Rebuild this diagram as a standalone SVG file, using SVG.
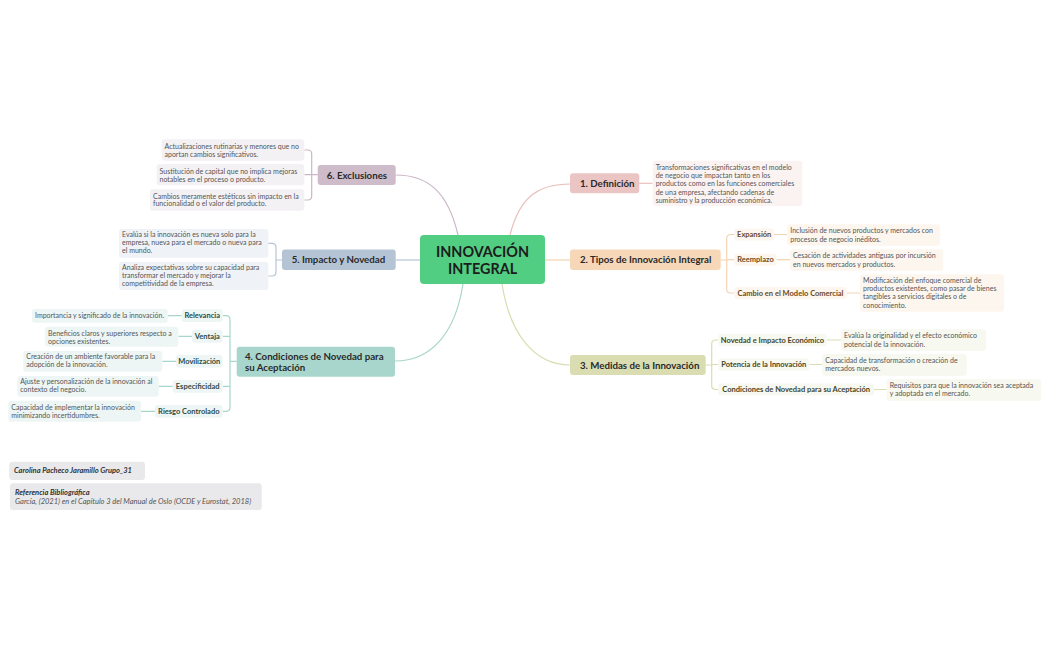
<svg xmlns="http://www.w3.org/2000/svg" width="1049" height="650" viewBox="0 0 1049 650">
<style>
text{font-family:Lato,"Liberation Sans",sans-serif;}
.br{font-size:9.7px;font-weight:700;fill:#2a2a2a;}
.lf{font-size:7px;fill:#555;}
.sb{font-size:7.5px;font-weight:700;text-anchor:middle;}
.c{fill:none;stroke-width:1.2;}
.ft{font-size:7.5px;font-style:italic;}
</style>
<rect width="1049" height="650" fill="#ffffff"/>
<g id="connectors">
<path class="c" stroke="#CBB7C8" d="M458,235 C448,192 428,175 395.7,175"/>
<path class="c" stroke="#E9C0BD" d="M510,235 C520,195 540,184 570,184"/>
<path class="c" stroke="#B6C5D5" d="M420,260 H395.7"/>
<path class="c" stroke="#F4D4B2" d="M545,260 H570"/>
<path class="c" stroke="#A7D6CC" d="M463,284 C455,335 430,361 395,361"/>
<path class="c" stroke="#D9DDAF" d="M502,284 C510,335 535,365 570,365"/>
<path class="c" stroke="#CBB7C8" d="M304.3,150 H307.7 Q311.7,150 311.7,154 V196 Q311.7,200 307.7,200 H304.3 M304.3,174.7 H317.7"/>
<path class="c" stroke="#B6C5D5" d="M268.3,243.3 H272 Q276,243.3 276,247.3 V272 Q276,276 272,276 H268.3 M276,260 H282"/>
<path class="c" stroke="#A7D6CC" d="M222.7,315.6 H226 Q230,315.6 230,319.6 V407.3 Q230,411.3 226,411.3 H222.7 M222.7,336.4 H230 M222.7,386.3 H230 M230,361.3 H236.7"/>
<path class="c" stroke="#A7D6CC" d="M167.7,315.6 H181.7 M178.3,336.4 H192 M162.3,361.3 H176 M158.7,386.3 H172.7 M141,411.3 H155"/>
<path class="c" stroke="#E9C0BD" d="M639.3,183.3 H652.7"/>
<path class="c" stroke="#F4D4B2" d="M720.7,260 H726.7 M734.3,234.5 H730.7 Q726.7,234.5 726.7,238.5 V289 Q726.7,293 730.7,293 H734.3 M726.7,259.7 H734.3"/>
<path class="c" stroke="#F4D4B2" d="M774,234.5 H787.3 M776.7,259.7 H790 M846.7,293 H860"/>
<path class="c" stroke="#D9DDAF" d="M705.7,365 H711.7 M718.3,340 H715.7 Q711.7,340 711.7,344 V385.5 Q711.7,389.5 715.7,389.5 H718.3 M711.7,364.5 H718.3"/>
<path class="c" stroke="#D9DDAF" d="M826.7,340 H841 M809.3,364.5 H822.3 M874,389.5 H886.7"/>
</g>
<g id="central">
<rect x="420" y="235" width="125" height="49" rx="4" fill="#52CE83"/>
<text x="482.5" y="257" text-anchor="middle" style="font-size:14.4px;font-weight:700;fill:#1c1c1c">INNOVACIÓN</text>
<text x="482.5" y="273.8" text-anchor="middle" style="font-size:14.4px;font-weight:700;fill:#1c1c1c">INTEGRAL</text>
</g>
<g id="b1-definicion">
<rect x="570" y="173.3" width="69.3" height="20" rx="3" fill="#EBC5C4"/>
<text class="br" x="580" y="186.8">1. Definición</text>
<rect x="652.7" y="160.7" width="149.6" height="45.3" rx="3" fill="#FBF3F2"/>
<text class="lf" x="655.7" y="169.6">Transformaciones significativas en el modelo</text>
<text class="lf" x="655.7" y="177.9">de negocio que impactan tanto en los</text>
<text class="lf" x="655.7" y="186.2">productos como en las funciones comerciales</text>
<text class="lf" x="655.7" y="194.5">de una empresa, afectando cadenas de</text>
<text class="lf" x="655.7" y="202.8">suministro y la producción económica.</text>
</g>
<g id="b2-tipos">
<rect x="570" y="249.5" width="150.7" height="20.5" rx="3" fill="#F6D7B7"/>
<text class="br" x="580" y="263">2. Tipos de Innovación Integral</text>
</g>
<g id="b2-expansion">
<rect x="734.3" y="228.5" width="39.7" height="12" rx="3" fill="#FDF6EE"/>
<text class="sb" x="754.2" y="237.2" fill="#6A4A24">Expansión</text>
<rect x="787.3" y="224.3" width="152.7" height="21.4" rx="3" fill="#FDF6EE"/>
<text class="lf" x="790.3" y="233.3">Inclusión de nuevos productos y mercados con</text>
<text class="lf" x="790.3" y="241.6">procesos de negocio inéditos.</text>
</g>
<g id="b2-reemplazo">
<rect x="734.3" y="253.7" width="42.4" height="12" rx="3" fill="#FDF6EE"/>
<text class="sb" x="755.5" y="262.4" fill="#6A4A24">Reemplazo</text>
<rect x="790" y="249.3" width="153.3" height="21.4" rx="3" fill="#FDF6EE"/>
<text class="lf" x="793" y="258.3">Cesación de actividades antiguas por incursión</text>
<text class="lf" x="793" y="266.6">en nuevos mercados y productos.</text>
</g>
<g id="b2-cambio">
<rect x="734.3" y="287" width="112.4" height="12" rx="3" fill="#FDF6EE"/>
<text class="sb" x="790.5" y="295.7" fill="#6A4A24">Cambio en el Modelo Comercial</text>
<rect x="860" y="274.3" width="144" height="37.4" rx="3" fill="#FDF6EE"/>
<text class="lf" x="863" y="283">Modificación del enfoque comercial de</text>
<text class="lf" x="863" y="291.3">productos existentes, como pasar de bienes</text>
<text class="lf" x="863" y="299.3">tangibles a servicios digitales o de</text>
<text class="lf" x="863" y="307.6">conocimiento.</text>
</g>
<g id="b3-medidas">
<rect x="570" y="355" width="135.7" height="20" rx="3" fill="#DADDB2"/>
<text class="br" x="580" y="368.5">3. Medidas de la Innovación</text>
</g>
<g id="b3-novedad">
<rect x="718.3" y="334" width="108.4" height="12" rx="3" fill="#F7F8EF"/>
<text class="sb" x="772.5" y="342.6" fill="#44452A">Novedad e Impacto Económico</text>
<rect x="841" y="329.3" width="145" height="21.4" rx="3" fill="#F7F8EF"/>
<text class="lf" x="844" y="338.3">Evalúa la originalidad y el efecto económico</text>
<text class="lf" x="844" y="346.6">potencial de la innovación.</text>
</g>
<g id="b3-potencia">
<rect x="718.3" y="358.5" width="91" height="12" rx="3" fill="#F7F8EF"/>
<text class="sb" x="763.8" y="367.1" fill="#44452A">Potencia de la Innovación</text>
<rect x="822.3" y="354" width="144.4" height="21.7" rx="3" fill="#F7F8EF"/>
<text class="lf" x="825.3" y="363">Capacidad de transformación o creación de</text>
<text class="lf" x="825.3" y="371.3">mercados nuevos.</text>
</g>
<g id="b3-condiciones">
<rect x="718.3" y="383.5" width="155.7" height="12" rx="3" fill="#F7F8EF"/>
<text class="sb" x="796.2" y="392.1" fill="#44452A">Condiciones de Novedad para su Aceptación</text>
<rect x="886.7" y="379.3" width="154.3" height="21.4" rx="3" fill="#F7F8EF"/>
<text class="lf" x="889.7" y="388">Requisitos para que la innovación sea aceptada</text>
<text class="lf" x="889.7" y="396.3">y adoptada en el mercado.</text>
</g>
<g id="b6-exclusiones">
<rect x="317.7" y="165" width="78" height="20" rx="3" fill="#CFBCCB"/>
<text class="br" x="326.7" y="178.5">6. Exclusiones</text>
<rect x="161.7" y="139.3" width="142.6" height="21.4" rx="3" fill="#F4F1F4"/>
<text class="lf" x="164.5" y="149">Actualizaciones rutinarias y menores que no</text>
<text class="lf" x="164.5" y="157">aportan cambios significativos.</text>
<rect x="156.7" y="164" width="147.6" height="21.3" rx="3" fill="#F4F1F4"/>
<text class="lf" x="159.5" y="174">Sustitución de capital que no implica mejoras</text>
<text class="lf" x="159.5" y="182">notables en el proceso o producto.</text>
<rect x="150" y="189.3" width="154.3" height="21.4" rx="3" fill="#F4F1F4"/>
<text class="lf" x="153" y="198.6">Cambios meramente estéticos sin impacto en la</text>
<text class="lf" x="153" y="206.4">funcionalidad o el valor del producto.</text>
</g>
<g id="b5-impacto">
<rect x="282" y="249.5" width="113.7" height="20.5" rx="3" fill="#B5C4D4"/>
<text class="br" x="291.7" y="263">5. Impacto y Novedad</text>
<rect x="119" y="229" width="149.3" height="28.7" rx="3" fill="#EFF2F6"/>
<text class="lf" x="122" y="237.3">Evalúa si la innovación es nueva solo para la</text>
<text class="lf" x="122" y="245.3">empresa, nueva para el mercado o nueva para</text>
<text class="lf" x="122" y="253.3">el mundo.</text>
<rect x="119" y="261.7" width="149.3" height="28.3" rx="3" fill="#EFF2F6"/>
<text class="lf" x="122" y="270.3">Analiza expectativas sobre su capacidad para</text>
<text class="lf" x="122" y="278.3">transformar el mercado y mejorar la</text>
<text class="lf" x="122" y="286.3">competitividad de la empresa.</text>
</g>
<g id="b4-condiciones">
<rect x="236.7" y="346.7" width="158.3" height="30" rx="3" fill="#A8D6CC"/>
<text class="br" x="245" y="360.2">4. Condiciones de Novedad para</text>
<text class="br" x="245" y="370.7">su Aceptación</text>
</g>
<g id="b4-relevancia">
<rect x="181.7" y="309.3" width="41" height="12.7" rx="3" fill="#EDF6F4"/>
<text class="sb" x="202.2" y="318.2" fill="#2F4A45">Relevancia</text>
<rect x="32" y="309" width="135.7" height="13.7" rx="3" fill="#EDF6F4"/>
<text class="lf" x="35" y="318">Importancia y significado de la innovación.</text>
</g>
<g id="b4-ventaja">
<rect x="192" y="330" width="30.7" height="12.7" rx="3" fill="#EDF6F4"/>
<text class="sb" x="207.3" y="339" fill="#2F4A45">Ventaja</text>
<rect x="45" y="326.7" width="133.3" height="20" rx="3" fill="#EDF6F4"/>
<text class="lf" x="48" y="335.6">Beneficios claros y superiores respecto a</text>
<text class="lf" x="48" y="343.6">opciones existentes.</text>
</g>
<g id="b4-movilizacion">
<rect x="176" y="355" width="46.7" height="12.7" rx="3" fill="#EDF6F4"/>
<text class="sb" x="199.3" y="364" fill="#2F4A45">Movilización</text>
<rect x="23.3" y="351" width="139" height="20.7" rx="3" fill="#EDF6F4"/>
<text class="lf" x="26.3" y="359">Creación de un ambiente favorable para la</text>
<text class="lf" x="26.3" y="367.3">adopción de la innovación.</text>
</g>
<g id="b4-especificidad">
<rect x="172.7" y="380" width="50" height="12.7" rx="3" fill="#EDF6F4"/>
<text class="sb" x="197.7" y="389" fill="#2F4A45">Especificidad</text>
<rect x="17.3" y="376" width="141.4" height="20.7" rx="3" fill="#EDF6F4"/>
<text class="lf" x="20.3" y="384">Ajuste y personalización de la innovación al</text>
<text class="lf" x="20.3" y="392.3">contexto del negocio.</text>
</g>
<g id="b4-riesgo">
<rect x="155" y="405" width="67.7" height="12.7" rx="3" fill="#EDF6F4"/>
<text class="sb" x="188.8" y="414" fill="#2F4A45">Riesgo Controlado</text>
<rect x="8.3" y="400.7" width="132.7" height="21" rx="3" fill="#EDF6F4"/>
<text class="lf" x="11.3" y="409.6">Capacidad de implementar la innovación</text>
<text class="lf" x="11.3" y="418">minimizando incertidumbres.</text>
</g>
<g id="footer-autor">
<rect x="9.3" y="461.7" width="135.7" height="18.3" rx="3" fill="#E9E9EB"/>
<text class="ft" x="14" y="473.3" style="font-weight:700;fill:#333">Carolina Pacheco Jaramillo Grupo_31</text>
</g>
<g id="footer-referencia">
<rect x="10" y="483.3" width="251.7" height="26.7" rx="3" fill="#E9E9EB"/>
<text class="ft" x="15" y="495.2" style="font-weight:700;fill:#333">Referencia Bibliográfica</text>
<text class="ft" x="15" y="503.7" style="fill:#555">García, (2021) en el Capítulo 3 del Manual de Oslo (OCDE y Eurostat, 2018)</text>
</g>
</svg>
